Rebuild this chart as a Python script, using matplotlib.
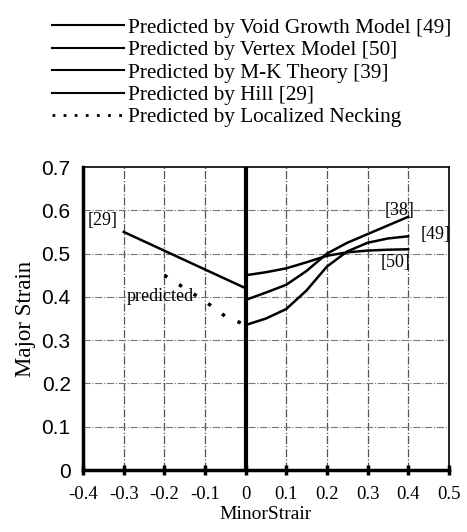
import matplotlib.pyplot as plt
from matplotlib.lines import Line2D

# data
hill_x = [-0.3, 0.0]
hill_y = [0.55, 0.42]

vertex_x = [0.0, 0.05, 0.1, 0.15, 0.2, 0.25, 0.3, 0.35, 0.4]
vertex_y = [0.45, 0.457, 0.466, 0.48, 0.495, 0.503, 0.507, 0.509, 0.51]

void_x = [0.0, 0.05, 0.1, 0.15, 0.2, 0.25, 0.3, 0.35, 0.4]
void_y = [0.335, 0.35, 0.372, 0.415, 0.47, 0.505, 0.525, 0.535, 0.54]

mk_x = [0.0, 0.05, 0.1, 0.15, 0.2, 0.25, 0.3, 0.35, 0.4]
mk_y = [0.393, 0.41, 0.428, 0.46, 0.5, 0.525, 0.545, 0.565, 0.585]

neck_x = [-0.2, -0.15, -0.1, -0.05, 0.0]
neck_y = [0.45, 0.42, 0.39, 0.355, 0.335]

legend_labels = ['Predicted by Void Growth Model [49]',
                 'Predicted by Vertex Model [50]',
                 'Predicted by M-K Theory [39]',
                 'Predicted by Hill [29]',
                 'Predicted by Localized Necking']

x_ticks = [-0.4, -0.3, -0.2, -0.1, 0, 0.1, 0.2, 0.3, 0.4, 0.5]
x_ticklabels = ['-0.4', '-0.3', '-0.2', '-0.1', '0', '0.1', '0.2', '0.3', '0.4', '0.5']
y_ticks = [0, 0.1, 0.2, 0.3, 0.4, 0.5, 0.6, 0.7]
y_ticklabels = ['0', '0.1', '0.2', '0.3', '0.4', '0.5', '0.6', '0.7']

serif = 'Liberation Serif'

fig = plt.figure(figsize=(4.67, 5.32), dpi=100)
ax = fig.add_axes([0.178, 0.1165, 0.783, 0.5695])

ax.set_xlim(-0.4, 0.5)
ax.set_ylim(0, 0.7)

# grid: grey dash-dot
for gx in x_ticks[1:-1]:
    ax.axvline(gx, color='#555555', lw=0.9, ls='-.', zorder=1)
for gy in y_ticks[1:-1]:
    ax.axhline(gy, color='#777777', lw=0.8, ls='-.', zorder=1)
ax.axvline(0, color='black', lw=3, zorder=3)

ax.plot(hill_x, hill_y, color='black', lw=1.8, zorder=4)
ax.plot(vertex_x, vertex_y, color='black', lw=1.8, zorder=4)
ax.plot(void_x, void_y, color='black', lw=1.8, zorder=4)
ax.plot(mk_x, mk_y, color='black', lw=1.8, zorder=4)
ax.plot(neck_x, neck_y, color='black', lw=2.5, ls=(0, (1, 4)), zorder=4)

ax.text(-0.353, 0.577, '[29]', fontsize=13, family=serif, ha='center', va='center')
ax.text(0.38, 0.60, '[38]', fontsize=13, family=serif, ha='center', va='center')
ax.text(0.467, 0.545, '[49]', fontsize=13, family=serif, ha='center', va='center')
ax.text(0.37, 0.48, '[50]', fontsize=13, family=serif, ha='center', va='center')
ax.text(-0.21, 0.402, 'predicted', fontsize=13, family=serif, ha='center', va='center')

ax.set_xticks(x_ticks)
ax.set_xticklabels(x_ticklabels, family=serif, fontsize=13.5)
ax.set_yticks(y_ticks)
ax.set_yticklabels(y_ticklabels, family='Liberation Sans', fontsize=15)
ax.tick_params(axis='x', direction='inout', length=7, width=2.5, pad=8)
ax.tick_params(axis='y', direction='in', length=0, pad=9)

ax.set_xlabel('MinorStrair', family=serif, fontsize=14, labelpad=2)
ax.set_ylabel('Major Strain', family=serif, fontsize=16.5, labelpad=4)

for s in ['left', 'bottom']:
    ax.spines[s].set_linewidth(2.5)
for s in ['top', 'right']:
    ax.spines[s].set_linewidth(1.2)

handles = [Line2D([], [], color='black', lw=1.5) for _ in range(4)]
handles.append(Line2D([], [], color='black', lw=2, ls=(0, (1, 3))))
fig.legend(handles, legend_labels, loc='upper left', bbox_to_anchor=(0.093, 0.9825),
           frameon=False, handlelength=3.4, handletextpad=0.2, labelspacing=0.12,
           prop={'family': serif, 'size': 15.3}, borderaxespad=0)

fig.savefig('out.png', dpi=100)
